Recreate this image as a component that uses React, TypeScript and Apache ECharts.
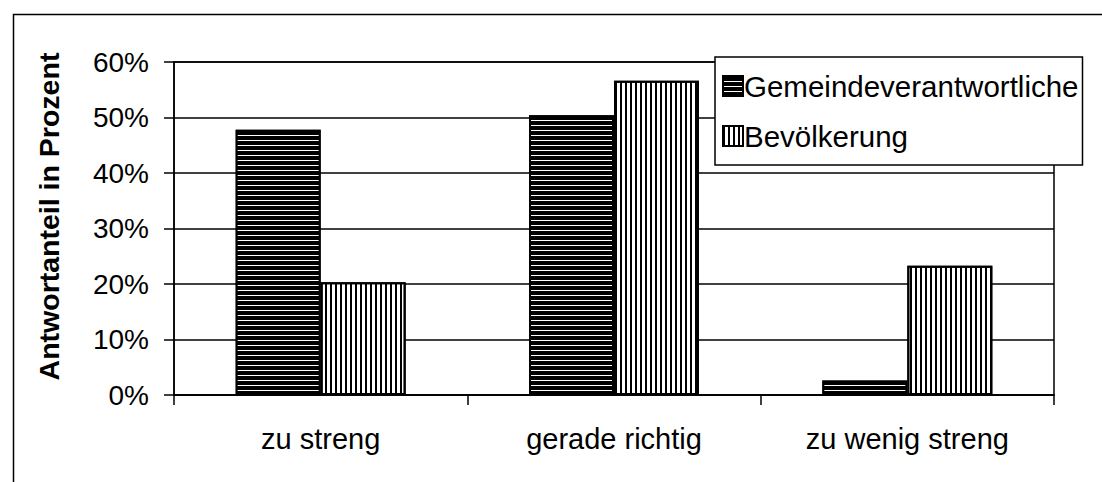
import React, { useEffect, useRef } from "react";
import * as echarts from "echarts";

const categories = ["zu streng", "gerade richtig", "zu wenig streng"];
const gemeinde = [47.8, 50.4, 2.6];
const bevoelkerung = [20.3, 56.6, 23.3];
const seriesNames = ["Gemeindeverantwortliche", "Bevölkerung"];
const yAxisTitle = "Antwortanteil in Prozent";

const FONT = "'Liberation Sans', Arial, Helvetica, sans-serif";

export default function App() {
  const ref = useRef<HTMLDivElement>(null);
  useEffect(() => {
    document.body.style.margin = "0";
    const chart = echarts.init(ref.current!, null, { renderer: "svg" });
    const decalH = {
      symbol: "rect",
      symbolSize: 1,
      dashArrayX: [1, 0],
      dashArrayY: [1, 3.5],
      color: "#ffffff",
    };
    const decalV = {
      symbol: "rect",
      symbolSize: 1,
      dashArrayX: [1.8, 2.5],
      dashArrayY: [1, 0],
      color: "#000000",
    };
    chart.setOption({
      animation: false,
      backgroundColor: "#ffffff",
      textStyle: { fontFamily: FONT, color: "#000" },
      grid: {
        left: 174,
        right: 48,
        top: 62,
        bottom: 87,
        show: true,
        borderColor: "#000",
        borderWidth: 1.5,
        backgroundColor: "transparent",
      },
      legend: {
        orient: "vertical",
        left: 715,
        top: 57,
        backgroundColor: "#fff",
        borderColor: "#000",
        borderWidth: 1.5,
        borderRadius: 0,
        padding: [14, 4, 14, 7],
        itemGap: 20,
        itemWidth: 20,
        itemHeight: 20,
        icon: "rect",
        textStyle: { fontSize: 29.5, fontFamily: FONT, color: "#000", padding: [0, 0, 0, -4] },
        data: seriesNames,
      },
      xAxis: {
        type: "category",
        data: categories,
        axisLine: { lineStyle: { color: "#000", width: 1.5 } },
        axisTick: { show: true, length: 10, inside: false, lineStyle: { color: "#000", width: 1.5 } },
        axisLabel: { fontSize: 29, color: "#000", margin: 29, fontFamily: FONT },
      },
      yAxis: {
        type: "value",
        min: 0,
        max: 60,
        interval: 10,
        name: yAxisTitle,
        nameLocation: "middle",
        nameGap: 111,
        nameTextStyle: {
          fontSize: 28.5,
          fontWeight: "bold",
          color: "#000",
          fontFamily: FONT,
          padding: [0, 0, 0, 24],
        },
        axisLine: { show: true, lineStyle: { color: "#000", width: 1.5 } },
        axisTick: { show: true, length: 10, lineStyle: { color: "#000", width: 1.5 } },
        axisLabel: { fontSize: 28, color: "#000", margin: 25, formatter: "{value}%", fontFamily: FONT },
        splitLine: { show: true, lineStyle: { color: "#000", width: 1.5 } },
      },
      series: [
        {
          name: seriesNames[0],
          type: "bar",
          data: gemeinde,
          barWidth: 85,
          barGap: "0%",
          itemStyle: { color: "#000", borderColor: "#000", borderWidth: 2, decal: decalH },
        },
        {
          name: seriesNames[1],
          type: "bar",
          data: bevoelkerung,
          barWidth: 85,
          barGap: "0%",
          itemStyle: { color: "#fff", borderColor: "#000", borderWidth: 2, decal: decalV },
        },
      ],
      graphic: [
        {
          type: "rect",
          left: 11,
          top: 12,
          shape: { width: 1200, height: 600 },
          style: { fill: "none", stroke: "#000", lineWidth: 1.5 },
          silent: true,
          z: -10,
        },
      ],
    });
    return () => chart.dispose();
  }, []);
  return <div ref={ref} style={{ width: 1102, height: 482 }} />;
}
